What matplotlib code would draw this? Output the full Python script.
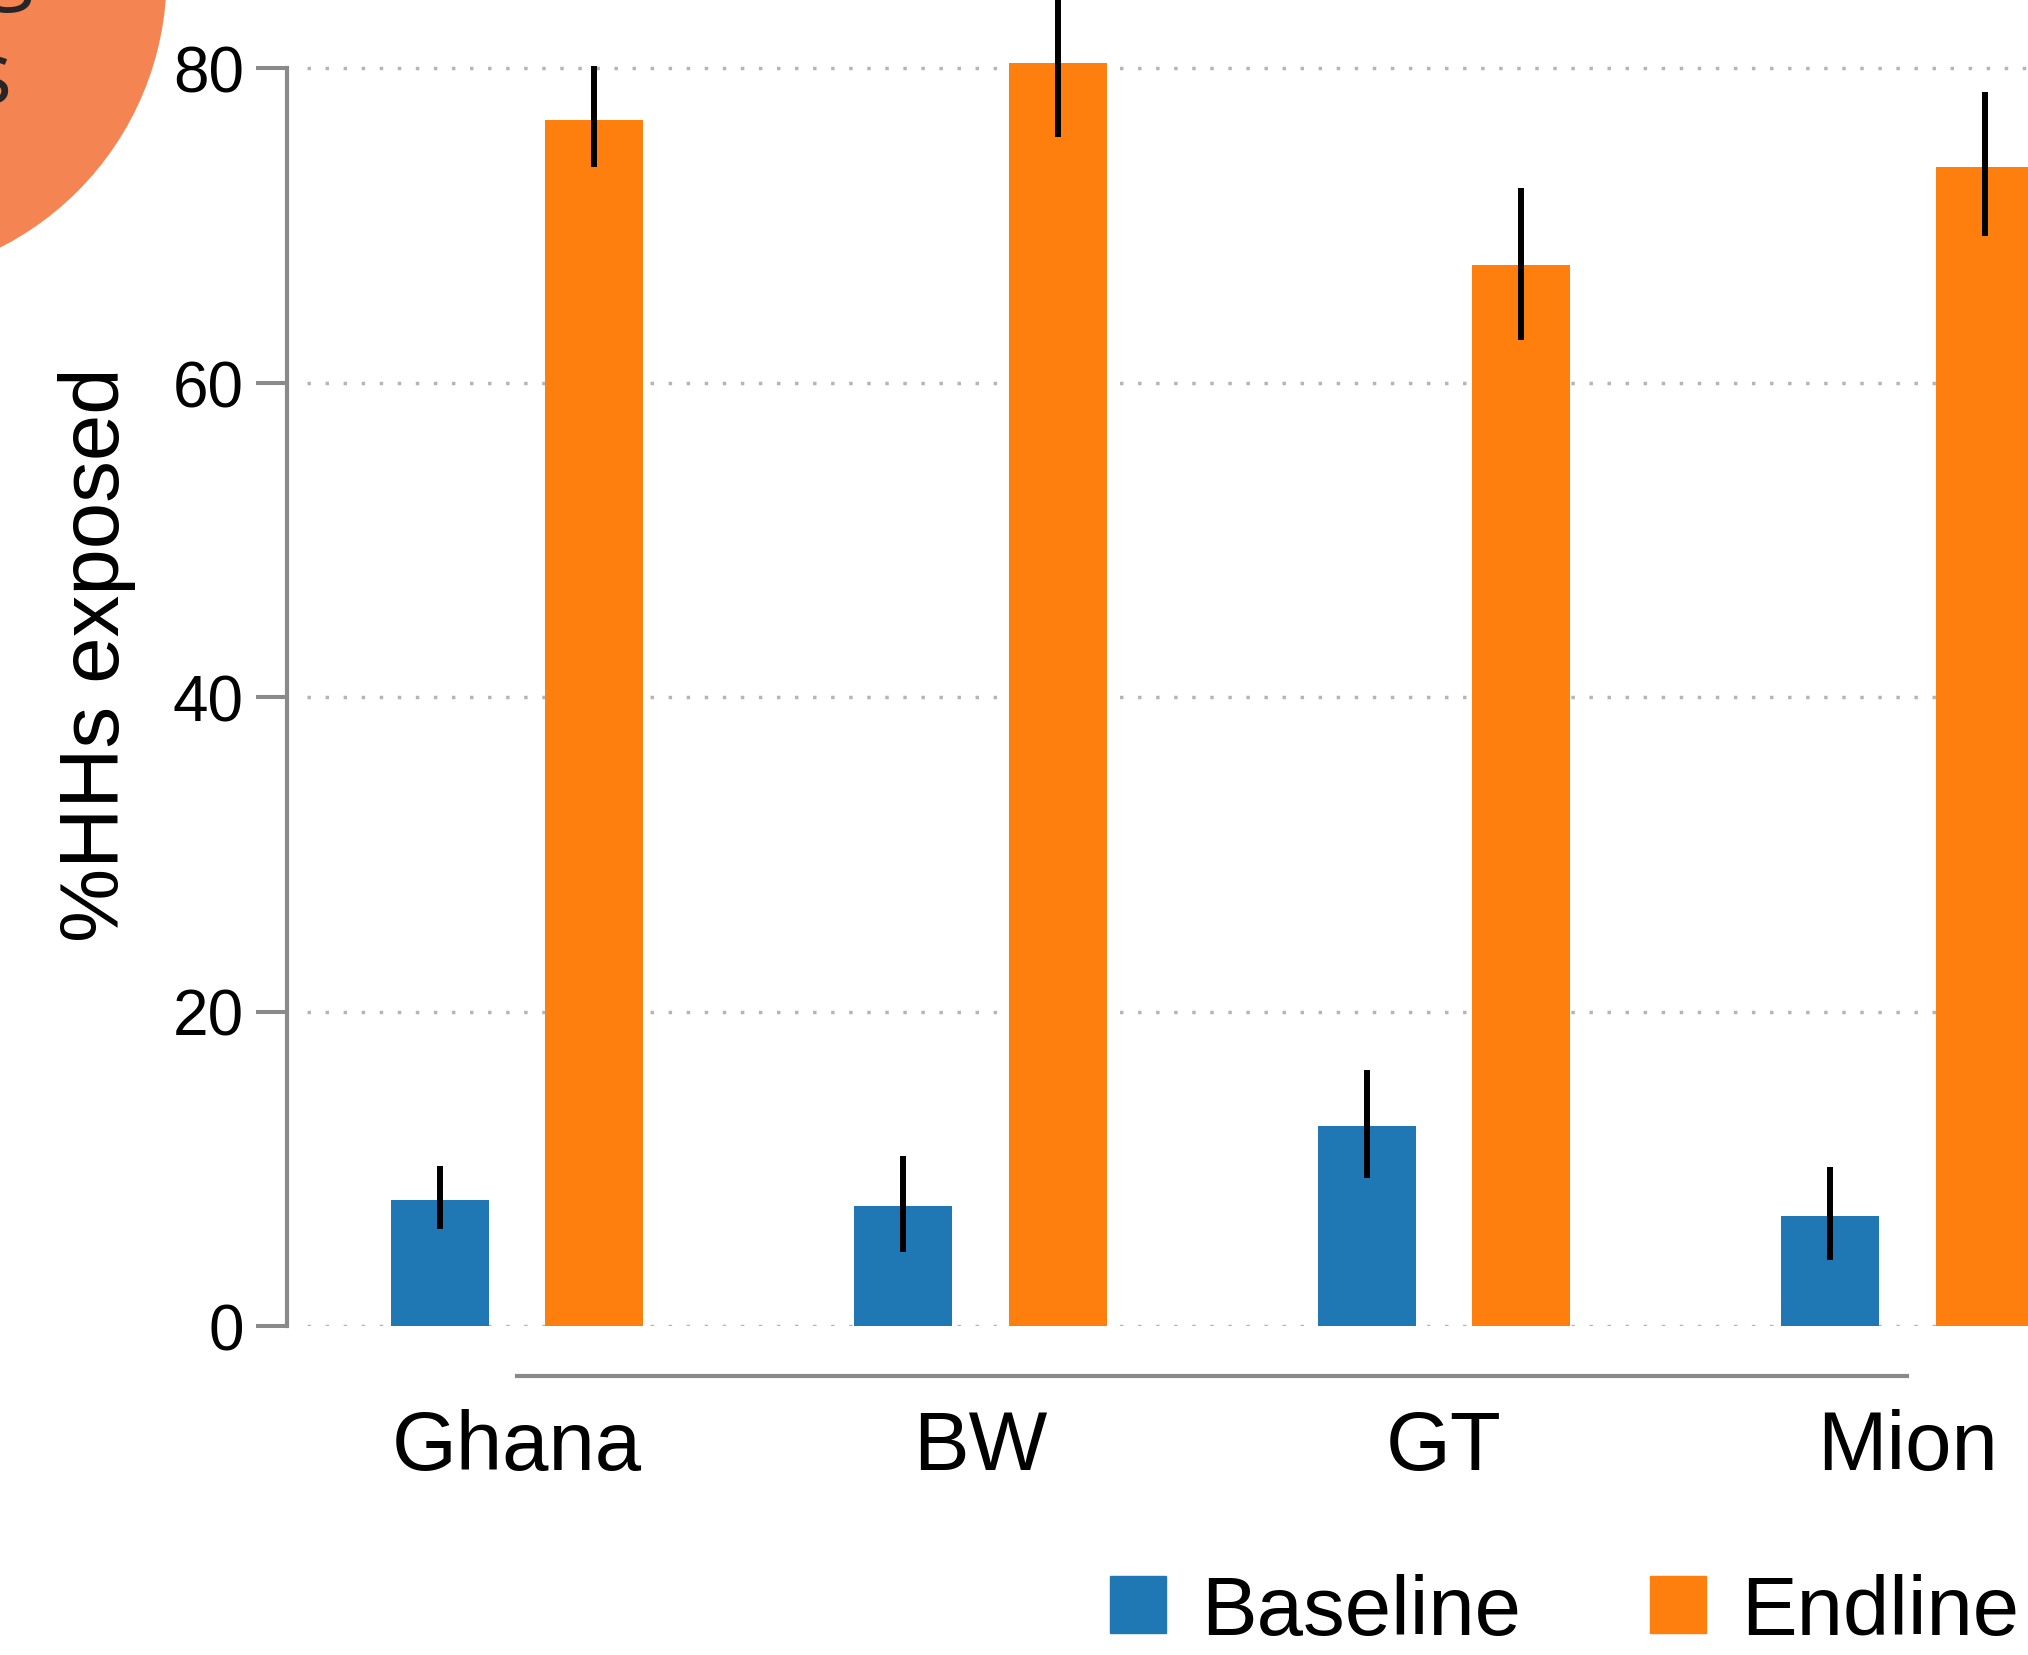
import matplotlib
matplotlib.use("Agg")
import matplotlib.pyplot as plt
from matplotlib.patches import Circle, Patch

plt.rcParams["font.family"] = ["Liberation Sans", "DejaVu Sans"]

# data (percent of households exposed)
countries = ["Ghana", "BW", "GT", "Mion"]
baseline = [8.0, 7.6, 12.7, 7.0]
baseline_lo = [6.2, 4.7, 9.4, 4.2]
baseline_hi = [10.2, 10.8, 16.3, 10.1]
endline = [76.7, 80.3, 67.5, 73.7]
endline_lo = [73.7, 75.6, 62.7, 69.3]
endline_hi = [80.1, 85.0, 72.4, 78.5]
yticks = [0, 20, 40, 60, 80]

BLUE = "#1f77b4"
ORANGE = "#ff7f0e"
GREY = "#8a8a8a"

W, H = 2028, 1656
fig = plt.figure(figsize=(W / 100, H / 100), dpi=100)

# axes placed in pixel terms: y axis line at x=287, zero at y=1327
ax = fig.add_axes([287 / W, (H - 1327) / H, 1 - 287 / W, 1327 / H])
ax.set_xlim(-0.496, 3.26)
ax.set_ylim(0, 1327 / 15.725)

x = list(range(len(countries)))
off = 1 / 6
bw = 0.212
xb = [i - off for i in x]
xe = [i + off for i in x]

for v in yticks:
    ax.hlines(v, -0.453, 3.3, color="#b5b5b5", lw=2.5, linestyle=(0, (1, 4.2)), zorder=0)

ax.bar(xb, baseline, width=bw, color=BLUE, zorder=2)
ax.bar(xe, endline, width=bw, color=ORANGE, zorder=2)

b_err = [[b - lo for b, lo in zip(baseline, baseline_lo)], [hi - b for b, hi in zip(baseline, baseline_hi)]]
e_err = [[e - lo for e, lo in zip(endline, endline_lo)], [hi - e for e, hi in zip(endline, endline_hi)]]
for xs, ys, err in [(xb, baseline, b_err), (xe, endline, e_err)]:
    eb = ax.errorbar(xs, ys, yerr=err, fmt="none", ecolor="black", elinewidth=4.3, capsize=0, zorder=3)
    for c in eb.get_children():
        c.set_clip_on(False)

for s in ["top", "right"]:
    ax.spines[s].set_visible(False)
ax.spines["left"].set_bounds(0, 80)
ax.spines["left"].set_color(GREY)
ax.spines["left"].set_linewidth(3)
ax.spines["bottom"].set_position(("outward", 36))
ax.spines["bottom"].set_bounds(0, 3)
ax.spines["bottom"].set_color(GREY)
ax.spines["bottom"].set_linewidth(3)

ax.set_yticks(yticks)
ax.tick_params(axis="y", length=22, width=2.9, color=GREY, labelsize=46, pad=9)
ax.set_xticks(x)
ax.set_xticklabels(countries)
ax.tick_params(axis="x", length=0, labelsize=60, pad=23)

fig.text(97 / W, 1 - 655 / H, "%HHs exposed", rotation=90, ha="center", va="center", fontsize=60)

handles = [Patch(color=BLUE, label="Baseline"), Patch(color=ORANGE, label="Endline")]
fig.legend(handles=handles, loc="center left", bbox_to_anchor=(1110 / W, 1 - 1613 / H), ncol=2,
           frameon=False, fontsize=60, handlelength=0.67, handleheight=0.67, handletextpad=0.42,
           columnspacing=1.55, borderpad=0, borderaxespad=0)

# slide decoration: orange circle in the top-left corner with clipped text
circ = Circle((-138 / 100, (H + 23) / 100), 304 / 100, transform=fig.dpi_scale_trans,
              color="#f58453", zorder=5)
fig.add_artist(circ)
fig.text(33 / W, 1 - (-8) / H, "g", ha="right", va="baseline", fontsize=62,
         family="Open Sans", color="#262626", zorder=6)
fig.text(12 / W, 1 - 103 / H, "s", ha="right", va="baseline", fontsize=62,
         family="Open Sans", color="#262626", zorder=6)

fig.savefig("out.png", dpi=100)
